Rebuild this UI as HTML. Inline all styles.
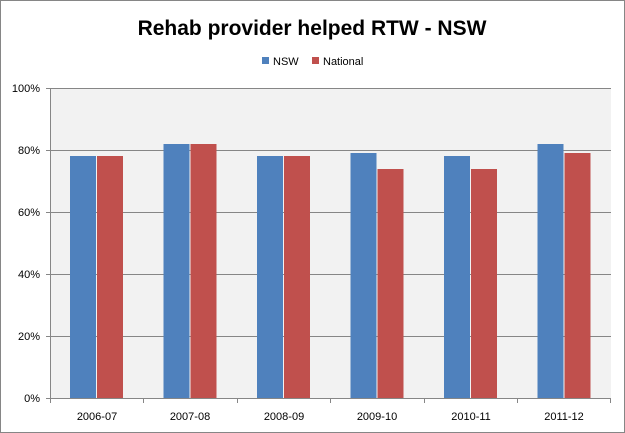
<!DOCTYPE html><html><head><style>body{margin:0;background:#fff}svg{display:block}text{font-family:"Liberation Sans",sans-serif}</style></head><body>
<svg width="625" height="433" xmlns="http://www.w3.org/2000/svg">
<rect x="0.5" y="0.5" width="624" height="432" fill="#fff" stroke="#868686"/>
<text x="312" y="35" text-anchor="middle" font-size="21" font-weight="bold">Rehab provider helped RTW - NSW</text>
<rect x="262" y="57" width="7" height="7" fill="#4f81bd"/><text x="273" y="65" font-size="11">NSW</text>
<rect x="312" y="57" width="7" height="7" fill="#c0504d"/><text x="323" y="65" font-size="11">National</text>
<rect x="50" y="88" width="561" height="310" fill="#f2f2f2"/>
<g stroke="#868686" stroke-width="1">
<line x1="50" y1="88.5" x2="611" y2="88.5"/><line x1="50" y1="150.5" x2="611" y2="150.5"/><line x1="50" y1="212.5" x2="611" y2="212.5"/><line x1="50" y1="274.5" x2="611" y2="274.5"/><line x1="50" y1="336.5" x2="611" y2="336.5"/>
<line x1="50.5" y1="88" x2="50.5" y2="398"/><line x1="46" y1="398.5" x2="611" y2="398.5"/>
<line x1="46" y1="88.5" x2="50" y2="88.5"/><line x1="46" y1="150.5" x2="50" y2="150.5"/><line x1="46" y1="212.5" x2="50" y2="212.5"/><line x1="46" y1="274.5" x2="50" y2="274.5"/><line x1="46" y1="336.5" x2="50" y2="336.5"/>
<line x1="50.5" y1="398" x2="50.5" y2="403"/><line x1="143.5" y1="398" x2="143.5" y2="403"/><line x1="237.5" y1="398" x2="237.5" y2="403"/><line x1="330.5" y1="398" x2="330.5" y2="403"/><line x1="424.5" y1="398" x2="424.5" y2="403"/><line x1="517.5" y1="398" x2="517.5" y2="403"/><line x1="610.5" y1="398" x2="610.5" y2="403"/>
</g>
<g font-size="11" text-anchor="end"><text x="40" y="92">100%</text><text x="40" y="154">80%</text><text x="40" y="216">60%</text><text x="40" y="278">40%</text><text x="40" y="340">20%</text><text x="40" y="402">0%</text></g>
<g font-size="11" text-anchor="middle"><text x="97" y="420">2006-07</text><text x="190" y="420">2007-08</text><text x="284" y="420">2008-09</text><text x="377" y="420">2009-10</text><text x="471" y="420">2010-11</text><text x="564" y="420">2011-12</text></g>
<g fill="#4f81bd">
<rect x="70" y="156" width="26" height="242"/><rect x="163.5" y="144" width="26" height="254"/><rect x="257" y="156" width="26" height="242"/><rect x="350.5" y="153" width="26" height="245"/><rect x="444" y="156" width="26" height="242"/><rect x="537.5" y="144" width="26" height="254"/>
</g>
<g fill="#c0504d">
<rect x="97" y="156" width="26" height="242"/><rect x="190.5" y="144" width="26" height="254"/><rect x="284" y="156" width="26" height="242"/><rect x="377.5" y="169" width="26" height="229"/><rect x="471" y="169" width="26" height="229"/><rect x="564.5" y="153" width="26" height="245"/>
</g>
</svg></body></html>
